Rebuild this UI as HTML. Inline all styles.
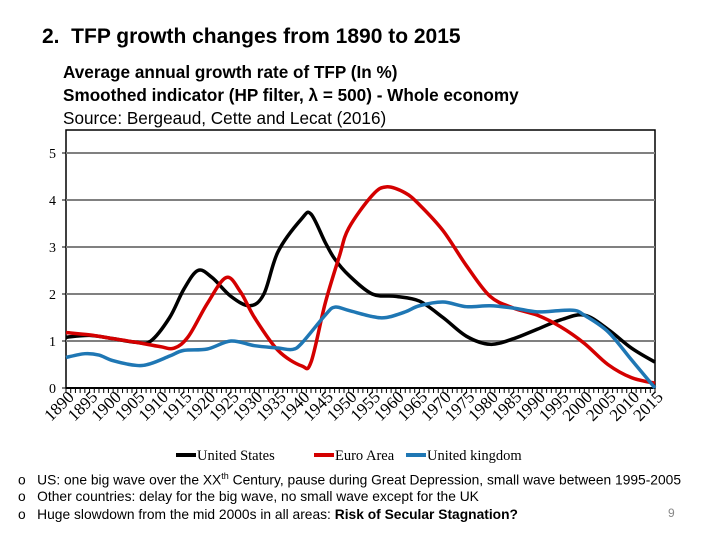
<!DOCTYPE html>
<html><head><meta charset="utf-8"><style>
body{margin:0;width:720px;height:540px;background:#fff;overflow:hidden;position:relative;font-family:"Liberation Sans",sans-serif}
.t{position:absolute;white-space:nowrap;color:#000}
</style></head><body>
<div class="t" style="left:42px;top:25px;font-size:21px;font-weight:bold">2.&nbsp; TFP growth changes from 1890 to 2015</div>
<div class="t" style="left:63px;top:61px;font-size:17.5px;font-weight:bold;line-height:23px;transform:scaleX(0.98);transform-origin:left top">Average annual growth rate of TFP (In %)<br>Smoothed indicator (HP filter, λ = 500) - Whole economy<br><span style="font-weight:normal">Source: Bergeaud, Cette and Lecat (2016)</span></div>
<svg id="chart" width="720" height="540" style="position:absolute;left:0;top:0"></svg>
<div class="t" style="left:18px;top:471px;font-size:13.8px">o&nbsp;&nbsp; US: one big wave over the XX<sup style="font-size:9px">th</sup> Century, pause during Great Depression, small wave between 1995-2005</div>
<div class="t" style="left:18px;top:489px;font-size:13.8px">o&nbsp;&nbsp; Other countries: delay for the big wave, no small wave except for the UK</div>
<div class="t" style="left:18px;top:507px;font-size:13.8px">o&nbsp;&nbsp; Huge slowdown from the mid 2000s in all areas: <b>Risk of Secular Stagnation?</b></div>
<div class="t" style="left:668px;top:506px;font-size:12px;color:#888">9</div>
<script>
const yTicks=[0,1,2,3,4,5];
const xTickYears=[1890,1895,1900,1905,1910,1915,1920,1925,1930,1935,1940,1945,1950,1955,1960,1965,1970,1975,1980,1985,1990,1995,2000,2005,2010,2015];
const usYears=[1890,1895,1900,1905,1908,1912,1915,1918,1921,1925,1929,1932,1935,1940,1942,1945,1947,1950,1955,1960,1965,1970,1975,1980,1985,1990,1995,2000,2005,2010,2015];
const usValues=[1.08,1.12,1.05,0.97,1.0,1.5,2.1,2.5,2.35,1.95,1.75,2.0,2.9,3.6,3.7,3.1,2.75,2.4,2.0,1.95,1.85,1.5,1.1,0.93,1.05,1.25,1.45,1.55,1.25,0.85,0.55];
const eaYears=[1890,1895,1900,1905,1910,1913,1916,1920,1924,1927,1930,1935,1940,1942,1945,1948,1950,1955,1958,1962,1965,1970,1975,1980,1985,1990,1995,2000,2005,2010,2015];
const eaValues=[1.18,1.13,1.05,0.97,0.88,0.85,1.1,1.8,2.35,2.05,1.5,0.8,0.47,0.55,1.8,2.8,3.4,4.1,4.28,4.15,3.9,3.35,2.6,1.95,1.7,1.55,1.3,0.95,0.5,0.22,0.1];
const ukYears=[1890,1894,1897,1900,1905,1908,1912,1915,1920,1925,1930,1935,1938,1940,1945,1947,1950,1955,1958,1962,1965,1970,1975,1980,1985,1990,1995,1998,2000,2005,2010,2015];
const ukValues=[0.65,0.73,0.7,0.58,0.48,0.52,0.68,0.8,0.83,1.0,0.9,0.85,0.82,0.95,1.55,1.72,1.65,1.52,1.5,1.62,1.75,1.83,1.73,1.75,1.7,1.62,1.65,1.65,1.55,1.2,0.6,0.0];
const NS='http://www.w3.org/2000/svg';
const svg=document.getElementById('chart');
const L=66,R=655,T=130,B=388,Y0=1890,Y1=2015;
function xs(y){return L+(y-Y0)/(Y1-Y0)*(R-L);}
function ys(v){return B-v/5*(B-153);}
function mk(tag,a){const e=document.createElementNS(NS,tag);for(const k in a)e.setAttribute(k,a[k]);svg.appendChild(e);return e;}
const frame=mk('rect',{x:L,y:T,width:R-L,height:B-T,fill:'none',stroke:'#000','stroke-width':1.5});


yTicks.forEach(v=>{
  if(v>0){const g=mk('line',{x1:L,x2:R,y1:ys(v),y2:ys(v),stroke:'#808080','stroke-width':2});
  
  }
  mk('line',{x1:L-4,x2:L,y1:ys(v),y2:ys(v),stroke:'#000'});
  const t=mk('text',{x:L-10,y:ys(v)+5,'text-anchor':'end','font-family':'Liberation Serif,serif','font-size':14});
  t.textContent=v;
  
  
});
mk('line',{x1:L,x2:R,y1:B,y2:B,stroke:'#000','stroke-width':2});
for(let y=Y0;y<=Y1;y++){mk('line',{x1:xs(y),x2:xs(y),y1:B,y2:B+5,stroke:'#000'});}
xTickYears.forEach(y=>{
  const t=mk('text',{x:0,y:0,'text-anchor':'end','font-family':'Liberation Serif,serif','font-size':17,transform:`translate(${xs(y)+9},${B+10}) rotate(-45)`});
  t.textContent=y;
  
  
});
function path(xa,va){
  const p=xa.map((x,i)=>[xs(x),ys(va[i])]);
  let d=`M${p[0][0]},${p[0][1]}`;
  for(let i=0;i<p.length-1;i++){
    const p0=p[Math.max(0,i-1)],p1=p[i],p2=p[i+1],p3=p[Math.min(p.length-1,i+2)];
    d+=` C${p1[0]+(p2[0]-p0[0])/6},${p1[1]+(p2[1]-p0[1])/6} ${p2[0]-(p3[0]-p1[0])/6},${p2[1]-(p3[1]-p1[1])/6} ${p2[0]},${p2[1]}`;
  }
  return d;
}
const us=mk('path',{d:path(usYears,usValues),fill:'none',stroke:'#000','stroke-width':3.5});


const ea=mk('path',{d:path(eaYears,eaValues),fill:'none',stroke:'#d40000','stroke-width':3.5});


const uk=mk('path',{d:path(ukYears,ukValues),fill:'none',stroke:'#1f77b4','stroke-width':3.5});


const leg=[['United States','#000',176],['Euro Area','#d40000',314],['United kingdom','#1f77b4',406]];
leg.forEach(l=>{
  const g=mk('line',{x1:l[2],x2:l[2]+20,y1:455,y2:455,stroke:l[1],'stroke-width':4});
  
  
  const t=mk('text',{x:l[2]+21,y:460,'font-family':'Liberation Serif,serif','font-size':14.5});
  t.textContent=l[0];
  
  
});
</script>
</body></html>
